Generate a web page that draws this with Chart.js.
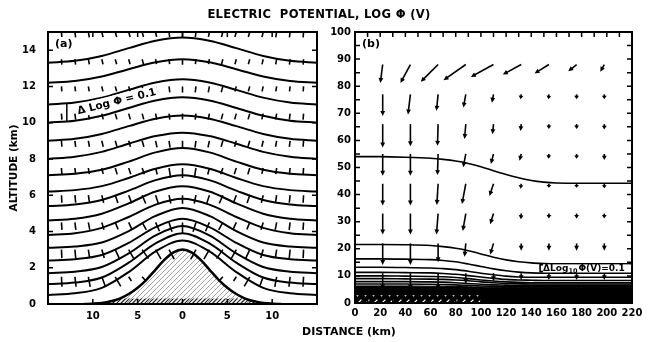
<!DOCTYPE html>
<html>
<head>
<meta charset="utf-8">
<script src="https://cdn.jsdelivr.net/npm/chart.js@4.4.1/dist/chart.umd.min.js"></script>
<style>
  body { margin: 0; background: #fff; }
  #wrap { position: relative; width: 649px; height: 342px; overflow: hidden; }
  canvas { position: absolute; top: 0; }
  .lbl { position: absolute; font: bold 11px 'DejaVu Sans', sans-serif; line-height: 13px;
         color: #000; text-align: center; white-space: nowrap; }
</style>
</head>
<body>
<div id="wrap">
  <canvas id="panelA" width="325" height="342" style="left:0"></canvas>
  <canvas id="panelB" width="324" height="342" style="left:325px"></canvas>
  <div class="lbl" style="left:119px; top:8px; width:400px; font-size:11.6px; letter-spacing:0.3px;">ELECTRIC&nbsp; POTENTIAL, LOG &Phi; (V)</div>
  <div class="lbl" style="left:249px; top:325px; width:200px;">DISTANCE (km)</div>
</div>
<script>
const FONT = "'DejaVu Sans', sans-serif";

// ---- (a) mountain profile, km ----
const mtnX   = [-11, -10, -9, -8, -7, -6, -5, -4, -3, -2, -1, 0, 1, 2, 3, 4, 5, 6, 7, 8, 9, 10, 11];
const mtnAlt = [0, 0.02, 0.06, 0.15, 0.3, 0.55, 0.9, 1.35, 1.9, 2.45, 2.85, 3.0, 2.85, 2.45, 1.9, 1.35, 0.9, 0.55, 0.3, 0.15, 0.06, 0.02, 0];
// darker hatching along the foot of the mountain
const footX   = [-10, -8, -7, -4, 4, 7, 8, 10];
const footAlt = [0.02, 0.15, 0.3, 0.3, 0.3, 0.3, 0.15, 0.02];

// ---- (a) potential contours, top to bottom (d log phi = 0.1) ----
const potX = [-15, -12, -9, -6, -3, 0, 3, 6, 9, 12, 15];
const potAlt = [
  [13.3, 13.41, 13.68, 14.11, 14.52, 14.7, 14.52, 14.11, 13.68, 13.41, 13.3],
  [12.2, 12.3, 12.55, 12.95, 13.33, 13.5, 13.33, 12.95, 12.55, 12.3, 12.2],
  [11.0, 11.11, 11.38, 11.81, 12.22, 12.4, 12.22, 11.81, 11.38, 11.11, 11.0],
  [10.0, 10.11, 10.38, 10.81, 11.22, 11.4, 11.22, 10.81, 10.38, 10.11, 10.0],
  [9.0, 9.11, 9.38, 9.81, 10.22, 10.4, 10.22, 9.81, 9.38, 9.11, 9.0],
  [8.0, 8.12, 8.39, 8.84, 9.26, 9.45, 9.26, 8.84, 8.39, 8.12, 8.0],
  [7.1, 7.18, 7.4, 7.85, 8.36, 8.6, 8.36, 7.85, 7.4, 7.18, 7.1],
  [6.2, 6.28, 6.5, 6.95, 7.46, 7.7, 7.46, 6.95, 6.5, 6.28, 6.2],
  [5.4, 5.49, 5.74, 6.25, 6.83, 7.1, 6.83, 6.25, 5.74, 5.49, 5.4],
  [4.6, 4.7, 4.98, 5.55, 6.2, 6.5, 6.2, 5.55, 4.98, 4.7, 4.6],
  [3.8, 3.9, 4.2, 4.8, 5.48, 5.8, 5.48, 4.8, 4.2, 3.9, 3.8],
  [3.1, 3.17, 3.39, 4.02, 4.86, 5.3, 4.86, 4.02, 3.39, 3.17, 3.1],
  [2.4, 2.47, 2.7, 3.37, 4.24, 4.7, 4.24, 3.37, 2.7, 2.47, 2.4],
  [1.7, 1.78, 2.04, 2.79, 3.78, 4.3, 3.78, 2.79, 2.04, 1.78, 1.7],
  [1.1, 1.18, 1.46, 2.28, 3.34, 3.9, 3.34, 2.28, 1.46, 1.18, 1.1],
  [0.5, 0.59, 0.89, 1.76, 2.9, 3.5, 2.9, 1.76, 0.89, 0.59, 0.5]
];

// field tick grid for (a), km
const fieldCols = [-15, -13.5, -12, -10.5, -9, -7.5, -6, -4.5, -3, -1.5, 0, 1.5, 3, 4.5, 6, 7.5, 9, 10.5, 12, 13.5, 15];
const fieldRows = [15, 13.5, 12, 10.5, 9, 7.5, 6, 4.5, 3, 1.5];

// axis ticks for (a)
const distTicksA  = [-10, -5, 0, 5, 10];
const distLabelsA = ['10', '5', '0', '5', '10'];
const altTicksA   = [0, 2, 4, 6, 8, 10, 12, 14];

// ---- (b) contours over 220 km, top to bottom ----
const distX = [0, 20, 40, 60, 70, 80, 90, 100, 110, 120, 130, 140, 150, 160, 180, 200, 220];
const distAlt = [
  [54, 54, 53.8, 53.4, 53, 52.4, 51.5, 50.3, 48.8, 47.4, 46.2, 45.2, 44.6, 44.3, 44.2, 44.2, 44.2],
  [21.6, 21.6, 21.5, 21.2, 20.8, 20.2, 19.3, 18.1, 16.9, 15.9, 15.2, 14.8, 14.6, 14.5, 14.5, 14.5, 14.5],
  [16.3, 16.3, 16.2, 16.0, 15.7, 15.2, 14.4, 13.5, 12.6, 11.9, 11.4, 11.1, 11.0, 11.0, 11.0, 11.0, 11.0],
  [13.2, 13.2, 13.1, 12.9, 12.7, 12.3, 11.7, 11.0, 10.4, 9.9, 9.6, 9.5, 9.5, 9.5, 9.5, 9.5, 9.5],
  [11.3, 11.3, 11.2, 11.1, 10.9, 10.6, 10.1, 9.6, 9.1, 8.7, 8.5, 8.4, 8.3, 8.3, 8.3, 8.3, 8.3],
  [10.0, 10.0, 9.9, 9.8, 9.7, 9.4, 9.0, 8.5, 8.1, 7.8, 7.6, 7.5, 7.5, 7.5, 7.5, 7.5, 7.5],
  [9.0, 9.0, 8.9, 8.8, 8.7, 8.5, 8.2, 7.8, 7.5, 7.2, 7.1, 7.0, 7.0, 7.0, 7.0, 7.0, 7.0],
  [7.9, 7.9, 7.9, 7.8, 7.7, 7.5, 7.2, 6.9, 6.7, 6.6, 6.5, 6.5, 6.5, 6.5, 6.5, 6.5, 6.5],
  [7.0, 7.0, 7.0, 6.9, 6.8, 6.7, 6.5, 6.3, 6.2, 6.1, 6.1, 6.1, 6.1, 6.1, 6.1, 6.1, 6.1]
];
const bandTop = [6.3, 6.3, 6.3, 6.2, 6.2, 6.1, 6.0, 5.9, 5.8, 5.7, 5.7, 5.7, 5.7, 5.7, 5.7, 5.7, 5.7];
const hatchX = [0, 100];
const hatchTop = [2.9, 2.9];

// field vectors for (b): tails on the grid, components in km
const arrowCols = [22, 44, 66, 88, 110, 132, 154, 176, 198];
const arrowRows = [88, 77, 66, 55, 44, 33, 22, 11];
const arrowU = [
  [-1.9, -7.9, -13.8, -17.7, -18.0, -14.6, -11.4, -6.6, -3.2],
  [0, -1.9, -1.3, -1.9, -1.3, -0.5, -0.3, 0, 0],
  [0, 0, -0.5, -1.0, -0.8, -0.5, 0, 0, 0],
  [0, 0, -0.5, -2.1, -2.1, -1.3, -0.3, 0, 0],
  [0, 0, -1.0, -3.0, -3.2, -0.5, 0, 0, 0],
  [0, 0, -1.3, -2.4, -2.6, -0.3, 0, 0, 0],
  [0, 0, 0, -1.0, -2.6, 0, 0, 0, 0],
  [0, 0, 0, 0, 0, 0, 0, 0, 0]
];
const arrowV = [
  [-6.8, -6.8, -6.4, -5.8, -4.6, -3.7, -3.3, -2.5, -2.7],
  [-8.0, -7.4, -6.1, -4.9, -3.1, -1.8, -1.8, -1.8, -1.8],
  [-8.6, -8.2, -8.0, -5.5, -3.7, -2.5, -1.8, -1.8, -2.0],
  [-8.0, -8.0, -7.8, -4.9, -3.7, -2.5, -1.8, -1.8, -2.2],
  [-8.0, -8.0, -7.8, -7.5, -4.5, -1.8, -1.5, -1.5, -1.7],
  [-7.7, -7.7, -7.7, -6.4, -3.9, -2.1, -1.8, -1.8, -1.8],
  [-8.0, -8.0, -7.0, -4.9, -4.1, -2.7, -2.7, -2.7, -2.7],
  [-6.0, -6.0, -6.0, -4.0, -3.0, -2.5, -2.5, -2.5, -2.5]
];

// axis ticks for (b)
const distTicksB = [0, 20, 40, 60, 80, 100, 120, 140, 160, 180, 200, 220];
const altTicksB  = [0, 10, 20, 30, 40, 50, 60, 70, 80, 90, 100];
const distMinorB = [0, 10, 20, 30, 40, 50, 60, 70, 80, 90, 100, 110, 120, 130, 140, 150, 160, 170, 180, 190, 200, 210, 220];
const altMinorB  = [5, 10, 15, 20, 25, 30, 35, 40, 45, 50, 55, 60, 65, 70, 75, 80, 85, 90, 95];

Chart.defaults.font.family = FONT;
Chart.defaults.font.weight = 'bold';
Chart.defaults.font.size = 10;
Chart.defaults.color = '#000';

function lerp(xs, ys, x) {
  if (x <= xs[0]) return ys[0];
  for (let i = 1; i < xs.length; i++) {
    if (x <= xs[i]) {
      const t = (x - xs[i - 1]) / (xs[i] - xs[i - 1]);
      return ys[i - 1] + t * (ys[i] - ys[i - 1]);
    }
  }
  return ys[ys.length - 1];
}

// diagonal hatch tile; dash < 1 leaves gaps along each stroke
function hatch(bg, fg, size, width, dash) {
  const c = document.createElement('canvas');
  c.width = size; c.height = size;
  const g = c.getContext('2d');
  if (bg) { g.fillStyle = bg; g.fillRect(0, 0, size, size); }
  g.strokeStyle = fg; g.lineWidth = width;
  const d = dash || 1;
  g.beginPath();
  g.moveTo(0, size); g.lineTo(size * d, size - size * d);
  g.moveTo(-size / 2, size / 2); g.lineTo(size / 2, -size / 2);
  g.moveTo(size / 2, size * 1.5); g.lineTo(size * 1.5, size / 2);
  g.stroke();
  return g.createPattern(c, 'repeat');
}

// spacing of the potential surfaces and their slope at a point of (a)
function fieldAt(xk, yk) {
  const ground = lerp(mtnX, mtnAlt, xk);
  if (yk <= ground + 0.1) return null;
  const slopeOf = (xs, ys) => (lerp(xs, ys, xk + 0.75) - lerp(xs, ys, xk - 0.75)) / 1.5;
  const levels = [ground], slopes = [slopeOf(mtnX, mtnAlt)];
  for (let i = potAlt.length - 1; i >= 0; i--) {
    levels.push(lerp(potX, potAlt[i], xk));
    slopes.push(slopeOf(potX, potAlt[i]));
  }
  let i = 0;
  while (i < levels.length - 2 && yk > levels[i + 1]) i++;
  const gap = levels[i + 1] - levels[i];
  const t = Math.max(0, Math.min(1, (yk - levels[i]) / gap));
  return { gap, slope: slopes[i] * (1 - t) + slopes[i + 1] * t };
}

function drawArrow(ctx, x0, y0, x1, y1) {
  const dx = x1 - x0, dy = y1 - y0, L = Math.hypot(dx, dy);
  if (L < 0.5) return;
  const ux = dx / L, uy = dy / L;
  const h = Math.min(5, L * 0.7), w = 2.4;
  ctx.beginPath();
  ctx.moveTo(x0, y0);
  ctx.lineTo(x1 - ux * h * 0.7, y1 - uy * h * 0.7);
  ctx.stroke();
  ctx.beginPath();
  ctx.moveTo(x1, y1);
  ctx.lineTo(x1 - ux * h - uy * w, y1 - uy * h + ux * w);
  ctx.lineTo(x1 - ux * h + uy * w, y1 - uy * h - ux * w);
  ctx.closePath();
  ctx.fill();
}

// frame with inward ticks and the panel letter
const framePlugin = {
  id: 'frame',
  afterDraw(chart, args, opts) {
    const { ctx, chartArea: a, scales: { x, y } } = chart;
    ctx.save();
    ctx.strokeStyle = '#000';
    ctx.lineWidth = 1.5;
    ctx.beginPath();
    opts.xTicks.forEach(v => {
      const px = x.getPixelForValue(v);
      ctx.moveTo(px, a.bottom); ctx.lineTo(px, a.bottom - opts.len);
      ctx.moveTo(px, a.top); ctx.lineTo(px, a.top + opts.len);
    });
    opts.yTicks.forEach(v => {
      const py = y.getPixelForValue(v);
      ctx.moveTo(a.left, py); ctx.lineTo(a.left + opts.len, py);
      ctx.moveTo(a.right, py); ctx.lineTo(a.right - opts.len, py);
    });
    ctx.stroke();
    ctx.lineWidth = 2;
    ctx.strokeRect(a.left, a.top, a.width, a.height);
    ctx.fillStyle = '#fff';
    ctx.font = 'bold 11px ' + FONT;
    const w = ctx.measureText(opts.letter).width;
    ctx.fillRect(a.left + 6, a.top + 5, w + 2, 13);
    ctx.fillStyle = '#000';
    ctx.textBaseline = 'middle';
    ctx.fillText(opts.letter, a.left + 7, a.top + 12);
    ctx.restore();
  }
};

// short field ticks on the grid of (a)
const fieldTicks = {
  id: 'fieldTicks',
  afterDatasetsDraw(chart) {
    const { ctx, chartArea: a, scales: { x, y } } = chart;
    const kx = x.getPixelForValue(1) - x.getPixelForValue(0);
    const ky = y.getPixelForValue(0) - y.getPixelForValue(1);
    ctx.save();
    ctx.beginPath(); ctx.rect(a.left, a.top, a.width, a.height); ctx.clip();
    ctx.strokeStyle = '#000';
    ctx.lineWidth = 1.6;
    ctx.beginPath();
    fieldRows.forEach(r => fieldCols.forEach(c => {
      const f = fieldAt(c, r);
      if (!f) return;
      let nx = f.slope * ky, ny = kx;
      const n = Math.hypot(nx, ny); nx /= n; ny /= n;
      const len = Math.min(11, Math.max(3.5, 6 / f.gap));
      const px = x.getPixelForValue(c), py = y.getPixelForValue(r);
      ctx.moveTo(px, py); ctx.lineTo(px + nx * len, py + ny * len);
    }));
    ctx.stroke();

    // contour interval note between the third and fourth surfaces
    const bx = -12.9;
    ctx.lineWidth = 1.5;
    ctx.beginPath();
    ctx.moveTo(x.getPixelForValue(bx), y.getPixelForValue(lerp(potX, potAlt[2], bx)));
    ctx.lineTo(x.getPixelForValue(bx), y.getPixelForValue(lerp(potX, potAlt[3], bx)));
    ctx.stroke();
    const tx = -11.7;
    const ty = (lerp(potX, potAlt[2], tx) + lerp(potX, potAlt[3], tx)) / 2;
    ctx.translate(x.getPixelForValue(tx), y.getPixelForValue(ty));
    ctx.rotate(-14 * Math.PI / 180);
    ctx.font = 'bold 10.5px ' + FONT;
    const label = 'Δ Log Φ = 0.1';
    const w = ctx.measureText(label).width;
    ctx.fillStyle = '#fff';
    ctx.fillRect(-1, -6.5, w + 3, 13);
    ctx.fillStyle = '#000';
    ctx.textBaseline = 'middle';
    ctx.fillText(label, 0, 0.5);
    ctx.restore();
  }
};

// field vectors of (b) and its interval note
const fieldArrows = {
  id: 'fieldArrows',
  afterDatasetsDraw(chart) {
    const { ctx, chartArea: a, scales: { x, y } } = chart;
    ctx.save();
    ctx.beginPath(); ctx.rect(a.left, a.top, a.width, a.height); ctx.clip();
    ctx.strokeStyle = '#000';
    ctx.fillStyle = '#000';
    ctx.lineWidth = 1.6;
    arrowRows.forEach((r, i) => arrowCols.forEach((c, j) => {
      drawArrow(ctx,
        x.getPixelForValue(c), y.getPixelForValue(r),
        x.getPixelForValue(c + arrowU[i][j]), y.getPixelForValue(r + arrowV[i][j]));
    }));

    const bx = 147;
    const hi = lerp(distX, distAlt[1], bx), lo = lerp(distX, distAlt[2], bx);
    const pxL = x.getPixelForValue(bx), pxR = a.right - 2;
    const pyT = y.getPixelForValue(hi) + 1.5, pyB = y.getPixelForValue(lo) - 1.5;
    ctx.fillStyle = '#fff';
    ctx.fillRect(pxL, pyT, pxR - pxL, pyB - pyT);
    ctx.beginPath();
    ctx.moveTo(pxL + 3, pyT); ctx.lineTo(pxL, pyT); ctx.lineTo(pxL, pyB); ctx.lineTo(pxL + 3, pyB);
    ctx.stroke();
    ctx.fillStyle = '#000';
    ctx.textBaseline = 'middle';
    const my = (pyT + pyB) / 2 + 0.5;
    let cx = pxL + 3;
    ctx.font = 'bold 9px ' + FONT;
    ctx.fillText('ΔLog', cx, my); cx += ctx.measureText('ΔLog').width;
    ctx.font = 'bold 6.5px ' + FONT;
    ctx.fillText('10', cx, my + 3); cx += ctx.measureText('10').width + 1;
    ctx.font = 'bold 9px ' + FONT;
    ctx.fillText('Φ(V)=0.1', cx, my);
    ctx.restore();
  }
};

function fixWidth(w) { return s => { s.width = w; }; }
function fixHeight(h) { return s => { s.height = h; }; }
const noGrid = { display: false, drawTicks: false };

// ---- panel (a) ----
const contourSetsA = potAlt.map(row => ({
  data: potX.map((x, i) => ({ x, y: row[i] })),
  borderColor: '#000', borderWidth: 2, pointRadius: 0,
  cubicInterpolationMode: 'monotone', fill: false
}));

new Chart(document.getElementById('panelA'), {
  type: 'line',
  data: {
    datasets: [
      ...contourSetsA,
      {
        data: mtnX.map((x, i) => ({ x, y: mtnAlt[i] })),
        borderColor: '#000', borderWidth: 2.5, pointRadius: 0,
        cubicInterpolationMode: 'monotone', fill: false
      },
      {
        data: footX.map((x, i) => ({ x, y: footAlt[i] })),
        borderWidth: 0, pointRadius: 0,
        fill: 'origin', backgroundColor: hatch(null, '#222', 4, 1.1)
      },
      {
        data: mtnX.map((x, i) => ({ x, y: mtnAlt[i] })),
        borderWidth: 0, pointRadius: 0,
        cubicInterpolationMode: 'monotone',
        fill: 'origin', backgroundColor: hatch('#fff', '#8a8a8a', 5, 0.8)
      }
    ]
  },
  options: {
    responsive: false, animation: false,
    layout: { padding: { left: 0, right: 8, top: 32, bottom: 14 } },
    plugins: {
      legend: { display: false }, tooltip: { enabled: false },
      frame: { xTicks: distTicksA, yTicks: altTicksA, len: 5, letter: '(a)' }
    },
    scales: {
      x: {
        type: 'linear', min: -15, max: 15,
        afterBuildTicks: s => { s.ticks = distTicksA.map(v => ({ value: v })); },
        afterFit: fixHeight(24),
        ticks: { padding: 6, maxRotation: 0, autoSkip: false,
                 callback: v => distLabelsA[distTicksA.indexOf(v)] },
        grid: noGrid, border: { display: false }
      },
      y: {
        type: 'linear', min: 0, max: 15,
        afterBuildTicks: s => { s.ticks = altTicksA.map(v => ({ value: v })); },
        afterFit: fixWidth(48),
        ticks: { padding: 12, autoSkip: false },
        title: { display: true, text: 'ALTITUDE (km)', font: { size: 10.5, weight: 'bold' },
                 padding: { top: 8, bottom: 0 } },
        grid: noGrid, border: { display: false }
      }
    }
  },
  plugins: [fieldTicks, framePlugin]
});

// ---- panel (b) ----
const contourSetsB = distAlt.map(row => ({
  data: distX.map((x, i) => ({ x, y: row[i] })),
  borderColor: '#000', borderWidth: 1.6, pointRadius: 0,
  cubicInterpolationMode: 'monotone', fill: false
}));

new Chart(document.getElementById('panelB'), {
  type: 'line',
  data: {
    datasets: [
      ...contourSetsB,
      {
        data: hatchX.map((x, i) => ({ x, y: hatchTop[i] })),
        borderWidth: 0, pointRadius: 0,
        fill: { value: 0.4 }, backgroundColor: hatch('#000', '#fff', 8, 1.3, 0.55)
      },
      {
        data: distX.map((x, i) => ({ x, y: bandTop[i] })),
        borderColor: '#000', borderWidth: 1, pointRadius: 0,
        cubicInterpolationMode: 'monotone',
        fill: 'origin', backgroundColor: '#000'
      }
    ]
  },
  options: {
    responsive: false, animation: false,
    layout: { padding: { left: 0, right: 17, top: 32, bottom: 15 } },
    plugins: {
      legend: { display: false }, tooltip: { enabled: false },
      frame: { xTicks: distMinorB, yTicks: altMinorB, len: 5, letter: '(b)' }
    },
    scales: {
      x: {
        type: 'linear', min: 0, max: 220,
        afterBuildTicks: s => { s.ticks = distTicksB.map(v => ({ value: v })); },
        afterFit: fixHeight(24),
        ticks: { padding: 4, maxRotation: 0, autoSkip: false },
        grid: noGrid, border: { display: false }
      },
      y: {
        type: 'linear', min: 0, max: 100,
        afterBuildTicks: s => { s.ticks = altTicksB.map(v => ({ value: v })); },
        afterFit: fixWidth(30),
        ticks: { padding: 4, autoSkip: false },
        grid: noGrid, border: { display: false }
      }
    }
  },
  plugins: [fieldArrows, framePlugin]
});
</script>
</body>
</html>
